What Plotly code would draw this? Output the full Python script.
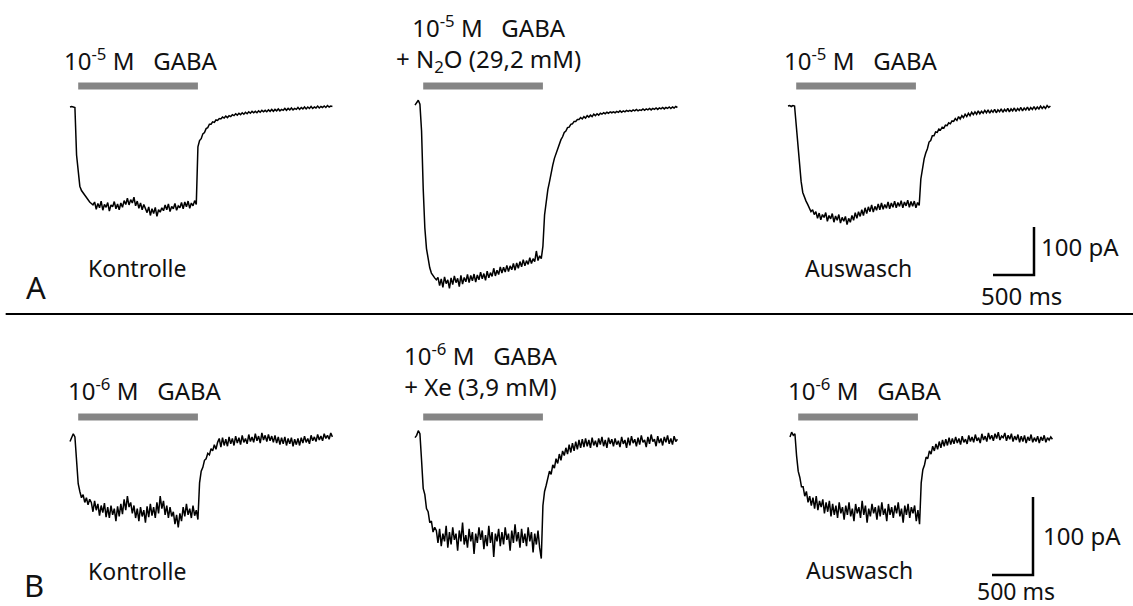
import plotly.graph_objects as go

# ---------------- data (pA, sampled every DT_MS ms from sweep start) ----------------
DT_MS = 20

# Row A: 10^-5 M GABA, N2O
A_kontrolle = [
    0, 1, 0, -1,
    -100, -140, -165, -174, -179, -185, -190, -195, -198, -201, -204,
    -198, -213, -201, -210, -196, -215, -203, -209, -199, -217, -204, -208, -197, -212, -202,
    -214, -200, -209, -195,
    -203, -190, -204, -193, -200, -188, -206, -196,
    -211, -200, -214, -203, -210,
    -220, -208, -226, -212, -222, -209, -228, -214, -219, -210,
    -216, -204, -214, -202, -218, -207, -212, -201, -215, -206,
    -210, -199, -212, -198, -208, -196, -211, -200, -206, -195, -203,
    -83, -70, -66, -56, -53, -45, -43, -36, -36, -31, -32, -27, -28, -24, -25, -21, -23, -19,
    -22, -18, -20, -16, -18,
    -14, -17, -13, -16, -12, -15, -11, -14, -10, -13,
    -9, -12, -9, -12, -8, -11, -7, -10, -7, -10,
    -6, -9, -5, -9, -5, -8, -4, -8, -5, -7,
    -3, -7, -3, -6, -2, -6, -3, -5, -1, -5,
    -1, -4, 0, -4, 0, -3, 1, -3, 0, -2,
    2, -2, 1, -1, 2, -1, 3, 0, 2, 1]
A_n2o = [
    4, 8, 14, 6,
    -50, -170, -252, -295, -319, -335, -346, -352, -356, -360,
    -355, -372, -358, -376, -354, -368, -360, -378, -356,
    -370, -352, -366, -357, -374, -351, -369, -355, -364, -349,
    -366, -351, -362, -348, -365, -350, -360, -344, -358, -347,
    -361, -342, -356, -345, -353, -336, -352, -340, -349, -333,
    -346, -334, -344, -330, -343, -331, -339, -326, -340, -325,
    -336, -322, -333, -318, -331, -320, -328, -314, -326, -316,
    -322, -300, -320, -310, -316,
    -290, -225, -194, -172, -156, -136, -121, -107, -96, -87, -79, -68, -62, -53, -50, -43,
    -42, -36, -35, -30, -30, -26, -26,
    -22, -25, -20, -23, -18, -21, -17, -20, -15, -18,
    -14, -17, -13, -15, -12, -14, -11, -13, -10, -12,
    -10, -12, -9, -11, -8, -11, -8, -10, -7, -9,
    -7, -9, -6, -8, -5, -8, -6, -7, -4, -7,
    -4, -6, -3, -6, -3, -5, -2, -5, -2, -4,
    -1, -4, -1, -3, 0, -3, 0, -2, 1, -1]
A_auswasch = [
    2, 3, 1, 3, 2,
    -40, -80, -128, -155, -178, -188, -196, -203, -212, -218, -214, -224,
    -218, -232, -221, -235, -224, -230, -220, -238, -226, -233,
    -222, -240, -227, -236, -224, -242, -230, -238, -228, -245,
    -232, -240, -226, -236, -220, -232, -218, -228, -214, -226,
    -210, -222, -208, -218, -204, -219, -207, -215, -202, -214,
    -200, -213, -203, -211, -198, -212, -200, -209, -196, -210,
    -199, -207, -195, -210, -198, -206, -194, -209, -197, -207,
    -196, -210, -199, -205,
    -150, -123, -108, -96, -87, -73, -70, -60, -60, -52, -53, -46, -48, -42, -44, -38, -39,
    -33, -35, -29,
    -30, -24, -28, -20, -25, -18, -22, -15, -20, -13,
    -18, -11, -16, -10, -15, -8, -14, -9, -13, -7,
    -12, -6, -13, -7, -11, -5, -12, -6, -10, -4,
    -11, -5, -9, -3, -10, -4, -8, -2, -9, -3,
    -7, -1, -8, -2, -6, 0, -7, -1, -5, 1,
    -5, 0, -4, 2, -3, 1, -3, 3, -1, 2]

# Row B: 10^-6 M GABA, Xe
B_kontrolle = [
    -2, 3, 8, 4,
    -30, -56, -66, -74, -70, -80, -74, -83, -76,
    -80, -92, -78, -90, -82, -97, -84, -93, -81, -99,
    -86, -100, -84, -96, -88, -104, -85, -98, -82, -95,
    -76, -90, -72, -86, -80, -94,
    -84, -100, -88, -104, -86, -98, -90, -106, -85, -99,
    -82, -97, -86, -100, -80, -94, -72, -88,
    -78, -96, -84, -100, -86, -98,
    -92, -108, -96, -112, -94, -104,
    -86, -98, -82, -96, -88, -100, -84, -97, -90, -102,
    -55, -40, -35, -26, -24, -17, -19, -11, -14, -6, -12, -3,
    2, -9, 3, -7, 1, -8, 4, -5, 2, -7,
    5, -4, 3, -6, 6, -3, 2, -5, 7, -2,
    4, -3, 8, -1, 5, -4, 9, 0, 6, -2,
    7, -1, 5, -3, 6, -4, 4, -6, 3, -5,
    4, -7, 2, -5, 3, -8, 1, -6, 2, -7,
    3, -4, 5, -3, 2, -5, 6, -1, 4, -2,
    7, 0, 5, -1, 8, 2, 6, 1, 9, 4]
B_xe = [
    3, 6, 12, 8,
    -26, -62, -70, -88, -92, -106, -104, -118, -112,
    -116, -132, -114, -136, -120, -130, -110, -138, -118, -134,
    -112, -128, -120, -142, -116, -130, -106, -134, -122, -138,
    -114, -130, -118, -146, -120, -132, -112, -128, -116, -140,
    -122, -136, -110, -132, -118, -150, -120, -130, -114, -136,
    -118, -134, -112, -128, -120, -142, -116, -132, -108, -130,
    -118, -138, -114, -132, -120, -136, -112, -130, -118, -144,
    -120, -134, -116, -138, -152,
    -84, -66, -58, -50, -40, -44, -32, -36, -24, -30, -18, -26, -14,
    -20, -10, -18, -6, -16, -4, -14, -2, -12, 0,
    -10, 1, -9, 2, -8, 0, -10, 3, -7, -1,
    -9, 2, -6, 4, -8, 0, -10, 3, -5, 1,
    -8, 2, -6, -1, -9, 4, -5, 0, -10, 3,
    -7, 5, -4, 1, -8, 3, -6, 6, -3, 0,
    -9, 4, -5, 7, -2, 1, -8, 5, -4, 2,
    -7, 4, -3, 6, -5, 2, -6, 5, -2, 1]
B_auswasch = [
    4, 10, 6, 8,
    -20, -40, -48, -60, -60, -72, -66, -80, -72,
    -84, -74, -88, -72, -90, -78, -86, -76, -94, -80,
    -92, -78, -98, -82, -96, -84, -100, -80, -94, -86,
    -102, -84, -96, -80, -98, -88, -104, -82, -94, -86,
    -100, -78, -96, -84, -106, -88, -98, -82, -94, -86,
    -102, -84, -98, -80, -96, -88, -104, -82, -96, -86,
    -100, -84, -94, -80, -98, -88, -106, -84, -96, -82,
    -100, -86, -94, -84, -104, -90, -108,
    -55, -38, -32, -22, -24, -14, -18, -8, -14, -5, -12,
    -2, -10, 0, -8, 1, -7, 3, -6, 2, -5,
    4, -4, 2, -6, 5, -3, 1, -5, 6, -2,
    4, -3, 7, -1, 3, -4, 8, 0, 5, -2,
    9, 1, 6, -1, 8, 2, 10, 0, 5, 3,
    9, -1, 6, 1, 8, -2, 5, 0, 7, -3,
    5, -2, 6, -4, 4, -1, 7, -3, 3, -2,
    5, -4, 4, -1, 6, -3, 3, 0, 4, 1]

GABA_ON_MS, GABA_OFF_MS = 100, 1560
SCALE_MS, SCALE_PA = 500, 100

label_gaba_A = "10<sup>-5</sup> M\u00a0\u00a0 GABA"
label_gaba_B = "10<sup>-6</sup> M\u00a0\u00a0 GABA"
label_gas_A = "+ N<sub>2</sub>O (29,2 mM)"
label_gas_B = "+ Xe (3,9 mM)"
labels_bottom = ["Kontrolle", "Auswasch"]

# ---------------- layout constants ----------------
W, H = 1133, 606
MS_PER_PX = 500 / 41
A_ZERO_PY, A_PX_PER_PA = 107, 0.48
B_ZERO_PY, B_PX_PER_PA = 440, 0.78
COL_PX_A = [70, 415, 788]
COL_PX_B = [70, 415, 790]
BAR_PY_A, BAR_PY_B = 86, 417
FONT = "Noto Sans"
INK = "#111111"
TXT = 23
TOP_TXT = 24


def yrange(zero_py, k):
    return [(zero_py - H) / k, zero_py / k]


fig = go.Figure()


def add_row(traces, cols, yaxis, zero_py, k, bar_py):
    bar_y = (zero_py - bar_py) / k
    for vals, cpx in zip(traces, cols):
        off = cpx * MS_PER_PX
        fig.add_trace(go.Scatter(
            x=[off + i * DT_MS for i in range(len(vals))], y=vals, yaxis=yaxis,
            mode="lines", line=dict(color="#000000", width=1.5), hoverinfo="skip"))
        fig.add_trace(go.Scatter(
            x=[off + GABA_ON_MS, off + GABA_OFF_MS], y=[bar_y, bar_y], yaxis=yaxis,
            mode="lines", line=dict(color="#858585", width=7), hoverinfo="skip"))


add_row([A_kontrolle, A_n2o, A_auswasch], COL_PX_A, "y", A_ZERO_PY, A_PX_PER_PA, BAR_PY_A)
add_row([B_kontrolle, B_xe, B_auswasch], COL_PX_B, "y2", B_ZERO_PY, B_PX_PER_PA, BAR_PY_B)

# scale bars
for yaxis, cx_px, cy_px, zero_py, k in [("y", 1034, 275, A_ZERO_PY, A_PX_PER_PA),
                                        ("y2", 1033, 575, B_ZERO_PY, B_PX_PER_PA)]:
    cx = cx_px * MS_PER_PX
    cy = (zero_py - cy_px) / k
    fig.add_trace(go.Scatter(
        x=[cx - SCALE_MS, cx, cx], y=[cy, cy, cy + SCALE_PA], yaxis=yaxis,
        mode="lines", line=dict(color="#000000", width=2.5), hoverinfo="skip"))

annotations = []


def ann(text, px, py, size=TXT, xanchor="center"):
    annotations.append(dict(text=text, x=px / W, y=1 - py / H, xref="paper", yref="paper",
                            xanchor=xanchor, yanchor="middle", showarrow=False, align="center",
                            font=dict(family=FONT, size=size, color=INK)))


# Row A labels
ann(label_gaba_A, 141, 60, TOP_TXT)
ann(label_gaba_A + "<br>" + label_gas_A, 488, 43, TOP_TXT)
ann(label_gaba_A, 861, 60, TOP_TXT)
ann(labels_bottom[0], 137, 268)
ann(labels_bottom[1], 858, 268)
ann("A", 36, 287, size=31)
ann("100 pA", 1039, 246, size=24, xanchor="left")
ann("500 ms", 1021, 295, size=24)

# Row B labels
ann(label_gaba_B, 145, 389, TOP_TXT)
ann(label_gaba_B + "<br>" + label_gas_B, 481, 370, TOP_TXT)
ann(label_gaba_B, 865, 389, TOP_TXT)
ann(labels_bottom[0], 137, 571)
ann(labels_bottom[1], 859, 570)
ann("B", 34, 585, size=31)
ann("100 pA", 1041, 535, size=24, xanchor="left")
ann("500 ms", 1016, 591, size=23)

fig.update_layout(
    width=W, height=H, margin=dict(l=0, r=0, t=0, b=0),
    paper_bgcolor="white", plot_bgcolor="white", showlegend=False,
    xaxis=dict(range=[0, W * MS_PER_PX], visible=False, fixedrange=True),
    yaxis=dict(range=yrange(A_ZERO_PY, A_PX_PER_PA), visible=False, fixedrange=True),
    yaxis2=dict(range=yrange(B_ZERO_PY, B_PX_PER_PA), visible=False, fixedrange=True,
                overlaying="y"),
    annotations=annotations,
    shapes=[dict(type="line", xref="paper", yref="paper", x0=0.005, x1=1,
                 y0=1 - 314 / H, y1=1 - 314 / H, line=dict(color="#000000", width=2))],
)

fig.write_html("out.html")
